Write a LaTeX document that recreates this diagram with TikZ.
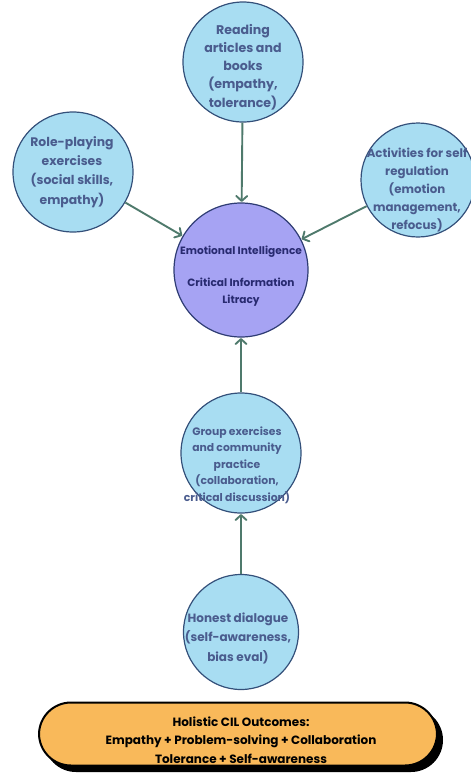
\documentclass[tikz,border=0pt]{standalone}
\usepackage{fontspec}
\setmainfont{Poppins}
\usetikzlibrary{arrows.meta,shapes.geometric}
\definecolor{bubble}{HTML}{A8DDF2}
\definecolor{bubbleedge}{HTML}{34507A}
\definecolor{core}{HTML}{A6A3F3}
\definecolor{coreedge}{HTML}{2E3C73}
\definecolor{txtblue}{HTML}{4A5C8E}
\definecolor{txtcore}{HTML}{282A70}
\definecolor{arrowc}{HTML}{4F7A6C}
\definecolor{outcome}{HTML}{F9B95A}
\tikzset{
  bubblenode/.style={circle, draw=bubbleedge, line width=1.2pt, fill=bubble, inner sep=0pt},
  corenode/.style={circle, draw=coreedge, line width=1.2pt, fill=core, inner sep=0pt},
  bubbletext/.style={text=txtblue, align=center, inner sep=0pt},
  coretext/.style={text=txtcore, align=center, inner sep=0pt},
  link/.style={draw=arrowc, line width=1.9pt, -{Straight Barb[length=5pt,width=11pt,round]}, shorten >=0.5pt},
}
\begin{document}
\begin{tikzpicture}[x=1pt,y=-1pt]
\useasboundingbox (0,0) rectangle (471,780);
\node[bubblenode, minimum size=120pt] (read) at (243,62) {};
\node[bubbletext, font=\bfseries\fontsize{12.6}{18.2}\selectfont] (readtxt) at (243,67) {Reading\\articles and\\books\\(empathy,\\tolerance)};
\node[bubblenode, minimum size=120pt] (role) at (73,172) {};
\node[bubbletext, font=\bfseries\fontsize{12.4}{19.3}\selectfont] (roletxt) at (72,172) {Role-playing\\exercises\\(social skills,\\empathy)};
\node[bubblenode, minimum size=114pt] (self) at (418,180) {};
\node[bubbletext, font=\bfseries\fontsize{11.8}{18}\selectfont] (selftxt) at (417,190) {Activities for self\\regulation\\(emotion\\management,\\refocus)};
\node[corenode, minimum size=134pt] (core) at (241,270) {};
\node[coretext, font=\bfseries\fontsize{10.6}{16.5}\selectfont] (coretxt) at (241,276) {Emotional Intelligence\\[15.5pt]Critical Information\\Litracy};
\node[bubblenode, minimum size=120pt] (group) at (241,453) {};
\node[bubbletext, font=\bfseries\fontsize{10.8}{16.5}\selectfont] (grouptxt) at (237,465) {Group exercises\\and community\\practice\\(collaboration,\\critical discussion)};
\node[bubblenode, minimum size=115pt] (honest) at (241,632) {};
\node[bubbletext, font=\bfseries\fontsize{12}{19.5}\selectfont] (honesttxt) at (238,638) {Honest dialogue\\(self-awareness,\\bias eval)};
\draw[link] (read) -- (core);
\draw[link] (role) -- (core);
\draw[link] (self) -- (core);
\draw[link] (group) -- (core);
\draw[link] (honest) -- (group);
\fill[black, rounded corners=32pt] (44,708) rectangle (443,772);
\node[draw=black, line width=2pt, fill=outcome, rounded corners=32pt, minimum width=398pt, minimum height=63pt, inner sep=0pt] (out) at (238,734) {};
\node[align=center, inner sep=0pt, font=\bfseries\fontsize{12}{18.5}\selectfont, text=black] (outtxt) at (241,740) {Holistic CIL Outcomes:\\Empathy + Problem-solving + Collaboration\\Tolerance + Self-awareness};
\end{tikzpicture}
\end{document}
